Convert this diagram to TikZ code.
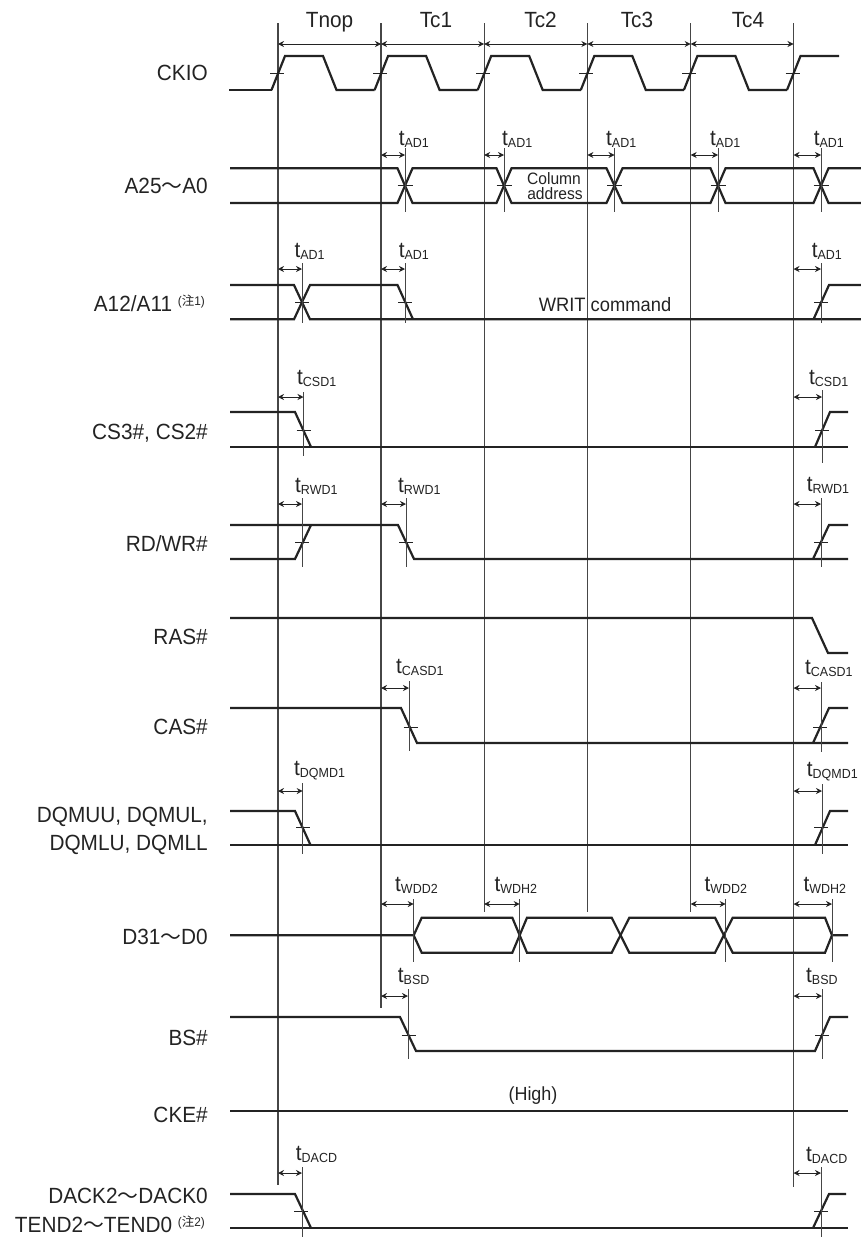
\documentclass[tikz,border=0pt]{standalone}
\usepackage{fontspec}
\setmainfont[FakeStretch=0.945]{Liberation Sans}
\newfontfamily\cjk{Noto Sans CJK JP}
\usepackage{xcolor}
\usepackage{tikz}
\usetikzlibrary{arrows.meta}
\definecolor{sigblack}{RGB}{35,35,35}
\definecolor{clockgray}{RGB}{70,70,70}
\newcommand{\namefont}{\fontsize{22}{24}\selectfont}
\newcommand{\tsub}[1]{t\raisebox{-2.5pt}{\fontsize{13.2}{13.2}\selectfont #1}}
\newcommand{\wave}{{\cjk\fontsize{20.8}{24}\selectfont ～}}
\newcommand{\notemark}[1]{\raisebox{6pt}{\fontsize{12.5}{12.5}\selectfont (\cjk 注\rmfamily #1)}}

\begin{document}
\begin{tikzpicture}[
  x=1pt,y=-1pt,
  every node/.style={font=\namefont,inner sep=0pt,text=sigblack},
  signame/.style={anchor=base east},
  timelabel/.style={anchor=base west},
  sig/.style={line width=2.2pt,sigblack,line join=miter},
  tick/.style={line width=0.7pt,sigblack},
  clockline/.style={line width=1.1pt,clockgray},
  edgeline/.style={line width=0.9pt,clockgray},
  span/.style={{Stealth[length=6pt,width=6pt]}-{Stealth[length=6pt,width=6pt]},line width=0.9pt,sigblack},
]
\useasboundingbox (0,0) rectangle (861,1237);

% Clock lines
\foreach \nm/\xc/\yend in {c0/278/1185,c1/381/1008,c2/484.2/912,c3/587.4/912,c4/690.7/912,c5/793.5/1187} {
  \coordinate (\nm top) at (\xc,23);
  \coordinate (\nm bot) at (\xc,\yend);
  \draw[clockline] (\nm top) -- (\nm bot);
  \coordinate (\nm arr) at (\xc,44);
}
\draw[span] (c0arr) -- (c1arr);
\draw[span] (c1arr) -- (c2arr);
\draw[span] (c2arr) -- (c3arr);
\draw[span] (c3arr) -- (c4arr);
\draw[span] (c4arr) -- (c5arr);

% Period labels
\node[anchor=base] (tnop) at (329.5,27) {Tnop};
\node[anchor=base] (tc1) at (436,27) {Tc1};
\node[anchor=base] (tc2) at (540.6,27) {Tc2};
\node[anchor=base] (tc3) at (637,27) {Tc3};
\node[anchor=base] (tc4) at (748,27) {Tc4};

% Signal names
\node[signame] (ckio) at (208,80) {CKIO};
\node[signame] (addr) at (208,193) {A25\wave A0};
\node[signame] (a12) at (205,311.5) {A12/A11 \notemark{1}};
\node[signame] (cs) at (208,439) {CS3\#, CS2\#};
\node[signame] (rdwr) at (208,551) {RD/WR\#};
\node[signame] (ras) at (208,644) {RAS\#};
\node[signame] (cas) at (208,734) {CAS\#};
\node[signame] (dqma) at (208,822) {DQMUU, DQMUL,};
\node[signame] (dqmb) at (208,850) {DQMLU, DQMLL};
\node[signame] (data) at (208,944.5) {D31\wave D0};
\node[signame] (bs) at (208,1045) {BS\#};
\node[signame] (cke) at (208,1122) {CKE\#};
\node[signame] (dack) at (208,1203) {DACK2\wave DACK0};
\node[signame] (tend) at (205,1232) {TEND2\wave TEND0 \notemark{2}};

% CKIO
\draw[sig] (229,90) -- (271.5,90);
\foreach \k in {0,...,4} {
  \pgfmathsetmacro\xk{278+103.1*\k}
  \draw[sig] (\xk-6.5,90) -- (\xk+7,56) -- (\xk+45,56) -- (\xk+58.5,90) -- (\xk+96.6,90);
  \draw[tick] (\xk-8,73) -- (\xk+6,73);
}
\draw[sig] (787,90) -- (800.5,56) -- (839,56);
\draw[tick] (785.5,73) -- (800,73);

% A25-A0
\draw[sig] (230,168.3) -- (397.5,168.3) -- (412.5,203) -- (496.5,203) -- (511.5,168.3) -- (606.5,168.3) -- (622.5,203) -- (710.5,203) -- (725.5,168.3) -- (813.5,168.3) -- (828.5,203) -- (861,203);
\draw[sig] (230,203) -- (397.5,203) -- (412.5,168.3) -- (496.5,168.3) -- (511.5,203) -- (606.5,203) -- (622.5,168.3) -- (710.5,168.3) -- (725.5,203) -- (813.5,203) -- (828.5,168.3) -- (861,168.3);
\foreach \xt in {405,504,614.5,718,821}
  \draw[tick] (\xt-7.5,185.6) -- (\xt+7.5,185.6);
\node[anchor=base] (coladdra) at (554,184) {\fontsize{16.5}{17}\selectfont Column};
\node[anchor=base] (coladdrb) at (555,199) {\fontsize{16.5}{17}\selectfont address};

% A12/A11
\draw[sig] (230,285) -- (294,285) -- (310,319.3) -- (861,319.3);
\draw[sig] (230,319.3) -- (294,319.3) -- (310,285) -- (397.5,285) -- (413,319.3);
\draw[sig] (813.5,319.3) -- (829,285) -- (861,285);
\foreach \xt in {302,405,821}
  \draw[tick] (\xt-7,302) -- (\xt+7,302);
\node[anchor=base] (writcmd) at (605,311.7) {\fontsize{19.4}{21}\selectfont WRIT command};

% CS3#, CS2#
\draw[sig] (230,412) -- (295,412) -- (311,447);
\draw[sig] (230,447) -- (848,447);
\draw[sig] (815,447) -- (830,412) -- (848,412);
\foreach \xt in {303.5,822}
  \draw[tick] (\xt-7,430) -- (\xt+7,430);

% RD/WR#
\draw[sig] (230,559) -- (295,559) -- (311,525);
\draw[sig] (230,525) -- (398,525) -- (414,559) -- (848,559);
\draw[sig] (813,559) -- (829,525) -- (848,525);
\foreach \xt in {302,406,821}
  \draw[tick] (\xt-7,542) -- (\xt+7,542);

% RAS#
\draw[sig] (230,618) -- (812,618) -- (828,653) -- (848,653);

% CAS#
\draw[sig] (230,708) -- (401,708) -- (417,743) -- (848,743);
\draw[sig] (813,743) -- (829,708) -- (848,708);
\foreach \xt in {410.5,820}
  \draw[tick] (\xt-7,727) -- (\xt+7,727);

% DQM
\draw[sig] (230,811) -- (295,811) -- (310.5,845);
\draw[sig] (230,845) -- (848,845);
\draw[sig] (815,845) -- (830,811) -- (848,811);
\foreach \xt in {303,821}
  \draw[tick] (\xt-7,827) -- (\xt+7,827);

% D31-D0
\draw[sig] (230,935.3) -- (413.7,935.3) -- (421.7,917.7) -- (512.3,917.7) -- (527,952.7) -- (611.7,952.7) -- (629.3,917.7) -- (715,917.7) -- (732.7,952.7) -- (825,952.7) -- (832,935.3) -- (848,935.3);
\draw[sig] (413.7,935.3) -- (421.7,952.7) -- (512.3,952.7) -- (527,917.7) -- (611.7,917.7) -- (629.3,952.7) -- (715,952.7) -- (732.7,917.7) -- (825,917.7) -- (832,935.3);

% BS#
\draw[sig] (230,1017) -- (400,1017) -- (416,1051) -- (815,1051) -- (830,1017) -- (848,1017);
\foreach \xt in {408.5,822}
  \draw[tick] (\xt-7,1035) -- (\xt+7,1035);

% CKE#
\draw[sig] (230,1110.7) -- (848,1110.7);
\node[anchor=base] (high) at (533,1100) {\fontsize{19}{21}\selectfont (High)};

% DACK, TEND
\draw[sig] (230,1194) -- (295,1194) -- (311,1228);
\draw[sig] (230,1228) -- (848,1228);
\draw[sig] (813,1228) -- (829,1194) -- (846,1194);
\foreach \xt in {301,821}
  \draw[tick] (\xt-7,1211.5) -- (\xt+7,1211.5);

% Delay marks
\foreach \nm/\xa/\xb/\ya/\yb/\yc/\lx/\ly/\sub in {
  ada/381/405/148/212/155/398.6/145/AD1,
  adb/484.2/504/148/212/155/502/145/AD1,
  adc/587.4/614.5/148/212/155/606/145/AD1,
  add/690.7/718/148/212/155/710/145/AD1,
  ade/793.5/821/148/212/155/813.6/145/AD1,
  adf/278/302/263/323/269/294.4/257/AD1,
  adg/381/405/263/323/269/398.6/257/AD1,
  adh/793.5/821/263/323/269/811.6/257/AD1,
  csa/278/303.5/392/456/397/297/384/CSD1,
  csb/793.5/822/390/463/397/809/384/CSD1,
  rwa/278/302/498/567/504/295/492/RWD1,
  rwb/381/406/498/567/504/398/492/RWD1,
  rwc/793.5/821/498/567/504/806.7/491/RWD1,
  casa/381/409/681/751/688/396/673/CASD1,
  casb/793.5/821/682/752/688/805/674/CASD1,
  dqa/278/302.7/783/854/791/294/775/DQMD1,
  dqb/793.5/822/784/854/791/806.7/776/DQMD1,
  wda/381/413.7/899/962/904/395/891/WDD2,
  wdb/484.2/519.7/899/962/904/494.3/891/WDH2,
  wdc/690.7/725.7/899/962/904/704.3/891/WDD2,
  wdd/793.5/832/899/962/904/803.3/891/WDH2,
  bsa/381/408/989/1059/996/397.7/982/BSD,
  bsb/793.5/822/989/1059/996/806/982/BSD,
  daa/278/302/1167/1237/1173/295.7/1160/DACD,
  dab/793.5/821/1167/1237/1173/806/1161/DACD} {
  \coordinate (\nm top) at (\xb,\ya);
  \coordinate (\nm bot) at (\xb,\yb);
  \coordinate (\nm from) at (\xa,\yc);
  \coordinate (\nm to) at (\xb,\yc);
  \draw[edgeline] (\nm top) -- (\nm bot);
  \draw[span] (\nm from) -- (\nm to);
  \node[timelabel] (\nm) at (\lx,\ly) {\tsub{\sub}};
}

\end{tikzpicture}
\end{document}
